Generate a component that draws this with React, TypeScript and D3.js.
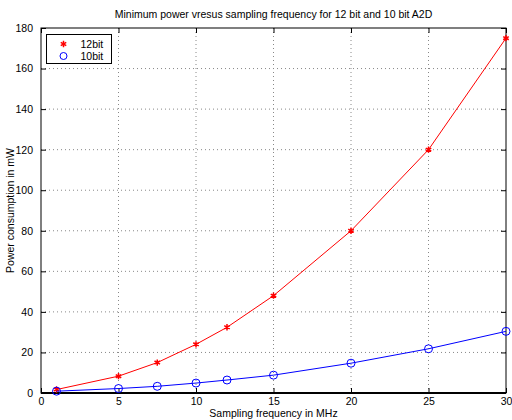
import React, { useEffect, useRef } from 'react';
import * as d3 from 'd3';

const freq = [1, 5, 7.5, 10, 12, 15, 20, 25, 30];
const power12 = [1.7, 8.3, 15, 24, 32.4, 48, 80, 120, 175];
const power10 = [0.9, 2.2, 3.3, 4.9, 6.4, 8.8, 14.7, 21.8, 30.4];
const xTicks = [0, 5, 10, 15, 20, 25, 30];
const yTicks = [0, 20, 40, 60, 80, 100, 120, 140, 160, 180];

const App = () => {
  const svgRef = useRef<SVGSVGElement>(null);

  useEffect(() => {
    const svg = d3.select(svgRef.current);
    svg.selectAll('*').remove();

    const W = 512, H = 420;
    const margin = { top: 28, right: 6, bottom: 27, left: 41 };
    const width = W - margin.left - margin.right;
    const height = H - margin.top - margin.bottom;
    const font = 'Liberation Sans, Arial, sans-serif';
    const fs = 10.5;

    svg.attr('width', W).attr('height', H);
    svg.append('rect').attr('width', W).attr('height', H).attr('fill', '#fff');

    const g = svg.append('g').attr('transform', `translate(${margin.left},${margin.top})`);

    const x = d3.scaleLinear().domain([0, 30]).range([0, width]);
    const y = d3.scaleLinear().domain([0, 180]).range([height, 0]);

    // grid
    g.append('g')
      .selectAll('line')
      .data(xTicks.slice(1, -1))
      .join('line')
      .attr('x1', d => x(d)).attr('x2', d => x(d))
      .attr('y1', 0).attr('y2', height)
      .attr('stroke', '#888').attr('stroke-width', 1).attr('stroke-dasharray', '1,3');
    g.append('g')
      .selectAll('line')
      .data(yTicks.slice(1, -1))
      .join('line')
      .attr('x1', 0).attr('x2', width)
      .attr('y1', d => y(d)).attr('y2', d => y(d))
      .attr('stroke', '#888').attr('stroke-width', 1).attr('stroke-dasharray', '1,3');

    // axes (ticks inward, MATLAB style)
    const styleAxis = (sel: any) => {
      sel.select('.domain').remove();
      sel.selectAll('text').attr('font-family', font).attr('font-size', fs).attr('fill', '#000');
      sel.selectAll('line').attr('stroke', '#000');
    };
    g.append('g').attr('transform', `translate(0,${height})`)
      .call(d3.axisBottom(x).tickValues(xTicks).tickSizeInner(-5).tickSizeOuter(0).tickPadding(5))
      .call(styleAxis);
    g.append('g')
      .call(d3.axisTop(x).tickValues(xTicks).tickSizeInner(-5).tickSizeOuter(0).tickFormat(() => ''))
      .call(styleAxis);
    g.append('g')
      .call(d3.axisLeft(y).tickValues(yTicks).tickSizeInner(-5).tickSizeOuter(0).tickPadding(8))
      .call(styleAxis);
    g.append('g').attr('transform', `translate(${width},0)`)
      .call(d3.axisRight(y).tickValues(yTicks).tickSizeInner(-5).tickSizeOuter(0).tickFormat(() => ''))
      .call(styleAxis);

    g.append('rect')
      .attr('width', width).attr('height', height)
      .attr('fill', 'none').attr('stroke', '#000').attr('stroke-width', 1);
    g.append('line')
      .attr('x1', 0).attr('x2', width).attr('y1', height).attr('y2', height)
      .attr('stroke', '#000').attr('stroke-width', 2);

    const line = d3.line<number>().x((d, i) => x(freq[i])).y(d => y(d));

    // 12 bit series
    g.append('path').datum(power12).attr('d', line)
      .attr('fill', 'none').attr('stroke', '#ff0000').attr('stroke-width', 1);
    const star = d3.symbol().type(d3.symbolAsterisk).size(28);
    g.append('g').selectAll('path')
      .data(power12)
      .join('path')
      .attr('transform', (d, i) => `translate(${x(freq[i])},${y(d)})`)
      .attr('d', star)
      .attr('fill', 'none').attr('stroke', '#ff0000').attr('stroke-width', 1.5);

    // 10 bit series
    g.append('path').datum(power10).attr('d', line)
      .attr('fill', 'none').attr('stroke', '#0000ff').attr('stroke-width', 1);
    g.append('g').selectAll('circle')
      .data(power10)
      .join('circle')
      .attr('cx', (d, i) => x(freq[i])).attr('cy', d => y(d))
      .attr('r', 4)
      .attr('fill', 'none').attr('stroke', '#0000ff').attr('stroke-width', 1);

    // legend
    const leg = svg.append('g').attr('transform', 'translate(46.5,34.5)');
    leg.append('rect').attr('width', 65).attr('height', 29)
      .attr('fill', '#fff').attr('stroke', '#000').attr('stroke-width', 1);
    leg.append('path').attr('transform', 'translate(17,9.5)').attr('d', star)
      .attr('fill', 'none').attr('stroke', '#ff0000').attr('stroke-width', 1.5);
    leg.append('circle').attr('cx', 17).attr('cy', 21.5).attr('r', 3.5)
      .attr('fill', 'none').attr('stroke', '#0000ff');
    leg.append('text').attr('x', 34).attr('y', 13).text('12bit')
      .attr('font-family', font).attr('font-size', fs);
    leg.append('text').attr('x', 34).attr('y', 25).text('10bit')
      .attr('font-family', font).attr('font-size', fs);

    // title and labels
    svg.append('text')
      .attr('x', margin.left + width / 2).attr('y', 18)
      .attr('text-anchor', 'middle')
      .attr('font-family', font).attr('font-size', fs)
      .text('Minimum power vresus sampling frequency for 12 bit and 10 bit A2D');
    svg.append('text')
      .attr('x', margin.left + width / 2).attr('y', 417)
      .attr('text-anchor', 'middle')
      .attr('font-family', font).attr('font-size', fs)
      .text('Sampling frequency in MHz');
    svg.append('text')
      .attr('transform', `translate(14,${margin.top + height / 2}) rotate(-90)`)
      .attr('text-anchor', 'middle')
      .attr('font-family', font).attr('font-size', fs)
      .text('Power consumption in mW');
  }, []);

  return (
    <div style={{ position: 'absolute', left: 0, top: 0 }}>
      <svg ref={svgRef} style={{ display: 'block' }}></svg>
    </div>
  );
};

export default App;
